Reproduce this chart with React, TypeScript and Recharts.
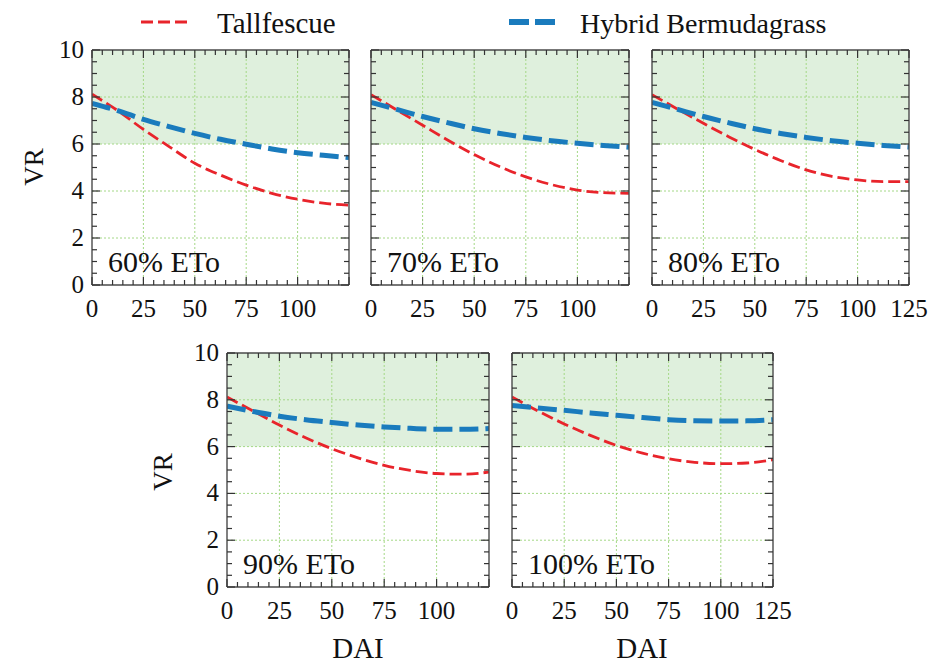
import React from 'react';
import { LineChart, Line, XAxis, YAxis, ReferenceArea, ReferenceLine } from 'recharts';

// ---- data ----
const dai = [0, 12.5, 25, 37.5, 50, 62.5, 75, 87.5, 100, 112.5, 125];

const tall60 = [8.12, 7.42, 6.62, 5.89, 5.18, 4.68, 4.25, 3.9, 3.65, 3.48, 3.4];
const berm60 = [7.73, 7.42, 7.05, 6.74, 6.45, 6.2, 5.99, 5.79, 5.63, 5.52, 5.42];
const tall70 = [8.1, 7.45, 6.8, 6.15, 5.55, 5.03, 4.6, 4.27, 4.04, 3.93, 3.9];
const berm70 = [7.77, 7.47, 7.17, 6.9, 6.65, 6.45, 6.28, 6.14, 6.03, 5.94, 5.86];
const tall80 = [8.1, 7.48, 6.88, 6.3, 5.77, 5.3, 4.9, 4.62, 4.47, 4.4, 4.4];
const berm80 = [7.77, 7.47, 7.17, 6.9, 6.65, 6.45, 6.28, 6.14, 6.03, 5.94, 5.87];
const tall90 = [8.12, 7.52, 6.92, 6.38, 5.91, 5.52, 5.2, 4.98, 4.85, 4.82, 4.91];
const berm90 = [7.73, 7.5, 7.3, 7.15, 7.03, 6.92, 6.84, 6.78, 6.74, 6.74, 6.77];
const tall100 = [8.12, 7.52, 6.97, 6.48, 6.05, 5.72, 5.48, 5.33, 5.27, 5.3, 5.44];
const berm100 = [7.76, 7.65, 7.55, 7.44, 7.34, 7.24, 7.15, 7.1, 7.09, 7.1, 7.15];

const seriesNames = ['Tallfescue', 'Hybrid Bermudagrass'];
const panelTitles = ['60% ETo', '70% ETo', '80% ETo', '90% ETo', '100% ETo'];

const xTicksMinor = [0, 5, 10, 15, 20, 25, 30, 35, 40, 45, 50, 55, 60, 65, 70, 75, 80, 85, 90, 95, 100, 105, 110, 115, 120, 125];
const xLabelsShort = [0, 25, 50, 75, 100];
const xLabelsFull = [0, 25, 50, 75, 100, 125];
const yTicksMinor = [0, 0.5, 1, 1.5, 2, 2.5, 3, 3.5, 4, 4.5, 5, 5.5, 6, 6.5, 7, 7.5, 8, 8.5, 9, 9.5, 10];
const yLabels = [0, 2, 4, 6, 8, 10];
const xGrid = [25, 50, 75, 100];
const yGrid = [2, 4, 6, 8];
const xMajorTicks = [0, 25, 50, 75, 100, 125];
const yMajorTicks = [0, 2, 4, 6, 8, 10];

// ---- styling ----
const FONT = 'Liberation Serif';
const RED = '#e8242b';
const BLUE = '#1a7bbd';
const FRAME = '#4a4a4a';
const TICK = '#333';
const GRID = '#a4d886';
const SHADE = '#dff0dd';

const LA = 50, RA = 25, TA = 20, BA = 50;

type PanelCfg = {
  left: number; top: number; w: number; h: number;
  tall: number[]; berm: number[]; title: string;
  xLabels: number[]; showY: boolean;
};

const panels: PanelCfg[] = [
  { left: 92, top: 50, w: 257, h: 235, tall: tall60, berm: berm60, title: panelTitles[0], xLabels: xLabelsShort, showY: true },
  { left: 371, top: 50, w: 258, h: 235, tall: tall70, berm: berm70, title: panelTitles[1], xLabels: xLabelsShort, showY: false },
  { left: 652, top: 50, w: 257, h: 235, tall: tall80, berm: berm80, title: panelTitles[2], xLabels: xLabelsFull, showY: false },
  { left: 227, top: 353, w: 262, h: 234, tall: tall90, berm: berm90, title: panelTitles[3], xLabels: xLabelsShort, showY: true },
  { left: 512, top: 353, w: 261, h: 234, tall: tall100, berm: berm100, title: panelTitles[4], xLabels: xLabelsFull, showY: false },
];

const makeXTick = (side: 'bottom' | 'top', labels: number[]) => (props: any) => {
  const { x, y, payload } = props;
  const v = payload.value;
  const major = xMajorTicks.includes(v);
  const len = major ? 8 : 5;
  const dir = side === 'bottom' ? -1 : 1;
  return (
    <g>
      <line x1={x} y1={y} x2={x} y2={y + dir * len} stroke={TICK} strokeWidth={1.2} />
      {side === 'bottom' && labels.includes(v) && (
        <text x={x} y={y + 32} textAnchor="middle" fontSize={25} fontFamily={FONT} fill="#111">{v}</text>
      )}
    </g>
  );
};

const makeYTick = (side: 'left' | 'right', show: boolean) => (props: any) => {
  const { x, y, payload } = props;
  const v = payload.value;
  const major = yMajorTicks.includes(v);
  const len = major ? 8 : 5;
  const dir = side === 'left' ? 1 : -1;
  return (
    <g>
      <line x1={x} y1={y} x2={x + dir * len} y2={y} stroke={TICK} strokeWidth={1.2} />
      {side === 'left' && show && yLabels.includes(v) && (
        <text x={x - 8} y={y + 8} textAnchor="end" fontSize={25} fontFamily={FONT} fill="#111">{v}</text>
      )}
    </g>
  );
};

function Panel({ cfg }: { cfg: PanelCfg }) {
  const data = dai.map((x, i) => ({ x, tf: cfg.tall[i], hb: cfg.berm[i] }));
  const axisLine = { stroke: FRAME, strokeWidth: 1.4 };
  return (
    <div style={{ position: 'absolute', left: cfg.left - LA, top: cfg.top - TA }}>
      <LineChart
        width={cfg.w + LA + RA}
        height={cfg.h + TA + BA}
        data={data}
        margin={{ top: 0, right: RA - 5, bottom: 0, left: 0 }}
      >
        <ReferenceArea xAxisId="b" yAxisId="l" y1={6} y2={10} fill={SHADE} fillOpacity={1} stroke="none" ifOverflow="visible" />
        {xGrid.map((v) => (
          <ReferenceLine key={'gx' + v} xAxisId="b" yAxisId="l" x={v} stroke={GRID} strokeWidth={1} strokeDasharray="2 2" />
        ))}
        {yGrid.map((v) => (
          <ReferenceLine key={'gy' + v} xAxisId="b" yAxisId="l" y={v} stroke={GRID} strokeWidth={1} strokeDasharray="2 2" />
        ))}
        <XAxis
          xAxisId="b" orientation="bottom" dataKey="x" type="number" domain={[0, 125]}
          ticks={xTicksMinor} interval={0} height={BA} tickSize={0} tickMargin={0}
          tickLine={false} axisLine={axisLine} tick={makeXTick('bottom', cfg.xLabels)} allowDataOverflow
        />
        <XAxis
          xAxisId="t" orientation="top" dataKey="x" type="number" domain={[0, 125]}
          ticks={xTicksMinor} interval={0} height={TA} tickSize={0} tickMargin={0}
          tickLine={false} axisLine={axisLine} tick={makeXTick('top', [])} allowDataOverflow
        />
        <YAxis
          yAxisId="l" orientation="left" type="number" domain={[0, 10]}
          ticks={yTicksMinor} interval={0} width={LA} tickSize={0} tickMargin={0}
          tickLine={false} axisLine={axisLine} tick={makeYTick('left', cfg.showY)} allowDataOverflow
        />
        <YAxis
          yAxisId="r" orientation="right" type="number" domain={[0, 10]}
          ticks={yTicksMinor} interval={0} width={5} tickSize={0} tickMargin={0}
          tickLine={false} axisLine={axisLine} tick={makeYTick('right', false)} allowDataOverflow
        />
        <Line
          xAxisId="b" yAxisId="l" dataKey="tf" name={seriesNames[0]} type="monotone"
          stroke={RED} strokeWidth={2.8} strokeDasharray="12 5" dot={false} isAnimationActive={false}
        />
        <Line
          xAxisId="b" yAxisId="l" dataKey="hb" name={seriesNames[1]} type="monotone"
          stroke={BLUE} strokeWidth={5} strokeDasharray="19 7" dot={false} isAnimationActive={false}
        />
      </LineChart>
      <div
        style={{
          position: 'absolute', left: LA + 16, top: TA + cfg.h - 12 - 26,
          fontFamily: FONT, fontSize: 30, lineHeight: '30px', color: '#111', whiteSpace: 'nowrap',
        }}
      >
        {cfg.title}
      </div>
    </div>
  );
}

export default function App() {
  return (
    <div style={{ position: 'absolute', left: 0, top: 0, width: 933, height: 664, background: '#fff', overflow: 'hidden' }}>
      {panels.map((p, i) => (
        <Panel key={i} cfg={p} />
      ))}
      <svg width={933} height={664} style={{ position: 'absolute', left: 0, top: 0, pointerEvents: 'none' }}>
        <line x1={141} y1={22} x2={188} y2={22} stroke={RED} strokeWidth={3} strokeDasharray="12 5" />
        <text x={217} y={33} fontSize={29} fontFamily={FONT} fill="#111">{seriesNames[0]}</text>
        <line x1={509} y1={22} x2={555} y2={22} stroke={BLUE} strokeWidth={6} strokeDasharray="20 6" />
        <text x={580} y={33} fontSize={28} fontFamily={FONT} fill="#111">{seriesNames[1]}</text>
        <text x={34} y={167} fontSize={27} fontFamily={FONT} fill="#111" textAnchor="middle" dominantBaseline="central" transform="rotate(-90 34 167)">VR</text>
        <text x={163} y={472} fontSize={27} fontFamily={FONT} fill="#111" textAnchor="middle" dominantBaseline="central" transform="rotate(-90 163 472)">VR</text>
        <text x={358} y={658} fontSize={29} fontFamily={FONT} fill="#111" textAnchor="middle">DAI</text>
        <text x={642} y={658} fontSize={29} fontFamily={FONT} fill="#111" textAnchor="middle">DAI</text>
      </svg>
    </div>
  );
}
